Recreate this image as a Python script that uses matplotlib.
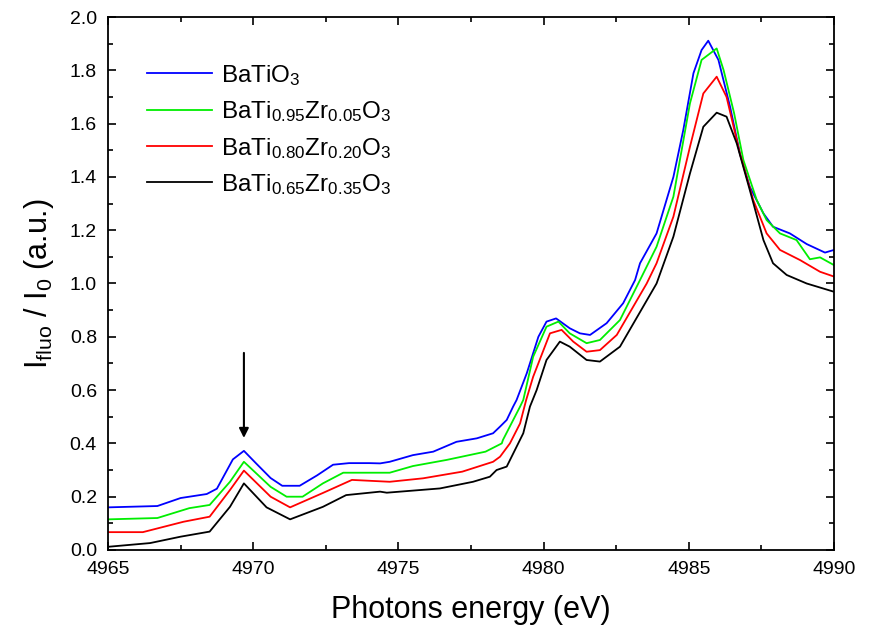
import numpy as np
import matplotlib
matplotlib.use("Agg")
import matplotlib.pyplot as plt
from matplotlib.ticker import MultipleLocator

plt.rcParams['font.family'] = ['Liberation Sans', 'DejaVu Sans']
plt.rcParams['mathtext.fontset'] = 'custom'
plt.rcParams['mathtext.rm'] = 'Liberation Sans'
plt.rcParams['mathtext.it'] = 'Liberation Sans'

# ---------------- data ----------------
blue_x = [4965.0, 4966.7, 4967.5, 4968.4, 4968.75, 4969.3, 4969.68, 4970.1, 4970.6, 4971.0, 4971.6,
          4972.2, 4972.75, 4973.3, 4974.0, 4974.37, 4974.7, 4975.5, 4976.2, 4977.0, 4977.7, 4978.26,
          4978.5, 4978.73, 4978.95, 4979.07, 4979.42, 4979.82, 4980.1, 4980.43, 4980.9, 4981.25, 4981.6,
          4982.17, 4982.74, 4983.15, 4983.32, 4983.89, 4984.47, 4984.81, 4985.16, 4985.44, 4985.67,
          4986.02, 4986.42, 4986.76, 4987.1, 4987.57, 4987.9, 4988.48, 4989.06, 4989.69, 4990.0]
blue_y = [0.16, 0.165, 0.195, 0.21, 0.23, 0.34, 0.372, 0.325, 0.27, 0.241, 0.241,
          0.28, 0.32, 0.326, 0.326, 0.325, 0.331, 0.356, 0.369, 0.406, 0.419, 0.438,
          0.463, 0.488, 0.538, 0.563, 0.663, 0.80, 0.857, 0.869, 0.832, 0.813, 0.807,
          0.851, 0.926, 1.013, 1.076, 1.188, 1.40, 1.576, 1.789, 1.876, 1.911,
          1.839, 1.664, 1.488, 1.363, 1.263, 1.213, 1.188, 1.148, 1.116, 1.126]

green_x = [4965.0, 4966.7, 4967.8, 4968.5, 4969.2, 4969.68, 4970.6, 4971.15, 4971.7, 4972.4, 4973.1,
           4974.37, 4974.7, 4975.5, 4976.66, 4978.0, 4978.56, 4978.6, 4979.19, 4979.3, 4979.64, 4980.1,
           4980.51, 4980.9, 4981.48, 4981.94, 4982.63, 4983.32, 4983.89, 4984.47, 4985.04, 4985.44,
           4985.96, 4986.2, 4986.56, 4986.88, 4987.34, 4987.68, 4988.14, 4988.71, 4989.17, 4989.52, 4990.0]
green_y = [0.115, 0.12, 0.157, 0.169, 0.256, 0.331, 0.237, 0.20, 0.20, 0.25, 0.29,
           0.29, 0.29, 0.315, 0.338, 0.369, 0.40, 0.413, 0.538, 0.563, 0.725, 0.838,
           0.857, 0.813, 0.776, 0.788, 0.863, 1.013, 1.138, 1.326, 1.676, 1.839,
           1.882, 1.80, 1.639, 1.463, 1.313, 1.238, 1.188, 1.163, 1.091, 1.098, 1.069]

red_x = [4965.0, 4966.2, 4967.6, 4968.5, 4969.2, 4969.68, 4970.6, 4971.27, 4972.4, 4973.4, 4974.7,
         4975.85, 4977.2, 4978.26, 4978.5, 4978.84, 4979.19, 4979.4, 4979.64, 4980.22, 4980.62,
         4981.02, 4981.48, 4981.94, 4982.52, 4983.55, 4983.89, 4984.47, 4985.04, 4985.5, 4985.96,
         4986.3, 4986.76, 4987.22, 4987.68, 4988.14, 4988.83, 4989.52, 4990.0]
red_y = [0.067, 0.067, 0.106, 0.125, 0.225, 0.298, 0.20, 0.16, 0.214, 0.263, 0.256,
         0.269, 0.294, 0.331, 0.35, 0.40, 0.475, 0.563, 0.65, 0.813, 0.826,
         0.782, 0.744, 0.75, 0.807, 1.0, 1.076, 1.251, 1.513, 1.713, 1.776,
         1.70, 1.488, 1.313, 1.188, 1.126, 1.088, 1.044, 1.026]

black_x = [4965.0, 4966.45, 4967.5, 4968.5, 4969.2, 4969.68, 4970.46, 4971.27, 4972.4, 4973.2, 4974.37,
           4974.6, 4976.43, 4977.57, 4978.15, 4978.38, 4978.73, 4979.3, 4979.53, 4979.76, 4980.1, 4980.56,
           4980.9, 4981.48, 4981.94, 4982.63, 4983.89, 4984.47, 4985.04, 4985.5, 4985.96, 4986.3,
           4986.65, 4987.1, 4987.57, 4987.9, 4988.37, 4989.06, 4990.0]
black_y = [0.012, 0.026, 0.05, 0.069, 0.162, 0.25, 0.16, 0.115, 0.162, 0.206, 0.219,
           0.215, 0.231, 0.256, 0.275, 0.30, 0.313, 0.438, 0.538, 0.60, 0.713, 0.782,
           0.763, 0.713, 0.707, 0.763, 1.0, 1.176, 1.413, 1.588, 1.641, 1.626,
           1.526, 1.351, 1.163, 1.076, 1.032, 1.0, 0.969]

labels = [r'BaTiO$_\mathregular{3}$',
          r'BaTi$_\mathregular{0.95}$Zr$_\mathregular{0.05}$O$_\mathregular{3}$',
          r'BaTi$_\mathregular{0.80}$Zr$_\mathregular{0.20}$O$_\mathregular{3}$',
          r'BaTi$_\mathregular{0.65}$Zr$_\mathregular{0.35}$O$_\mathregular{3}$']
colors = ['#0000ff', '#00ee00', '#ff0000', '#000000']
series = [(blue_x, blue_y), (green_x, green_y), (red_x, red_y), (black_x, black_y)]

arrow_x = 4969.68
arrow_y_start = 0.75
arrow_y_end = 0.41

# ---------------- figure ----------------
fig = plt.figure(figsize=(8.71, 6.37), dpi=100)
ax = fig.add_axes([108/871, 1 - 550/637, (834 - 108)/871, (550 - 17)/637])

for (x, y), c, lab in zip(series, colors, labels):
    ax.plot(x, y, color=c, lw=1.3, label=lab)

ax.annotate('', xy=(arrow_x, arrow_y_end), xytext=(arrow_x, arrow_y_start),
            arrowprops=dict(arrowstyle='-|>', color='black', lw=1.5, mutation_scale=14))

ax.set_xlim(4965, 4990)
ax.set_ylim(0, 2.0)
ax.xaxis.set_major_locator(MultipleLocator(5))
ax.xaxis.set_minor_locator(MultipleLocator(2.5))
ax.yaxis.set_major_locator(MultipleLocator(0.2))
ax.yaxis.set_minor_locator(MultipleLocator(0.1))
ax.yaxis.set_major_formatter(matplotlib.ticker.FormatStrFormatter('%.1f'))
ax.tick_params(which='both', direction='in', top=True, right=True, labelsize=14, width=1.2)
ax.tick_params(which='major', length=6, pad=8)
ax.tick_params(which='minor', length=3.5)
for s in ax.spines.values():
    s.set_linewidth(1.3)

ax.set_xlabel('Photons energy (eV)', fontsize=22, labelpad=12)
ax.set_ylabel(r'I$_\mathregular{fluo}$ / I$_\mathregular{0}$ (a.u.)', fontsize=22, labelpad=10)

leg = ax.legend(loc='upper left', bbox_to_anchor=(0.04, 0.932), frameon=False, fontsize=17.5,
                handlelength=2.67, handletextpad=0.4, labelspacing=0.47, borderaxespad=0)

fig.savefig('out.png', dpi=100)
